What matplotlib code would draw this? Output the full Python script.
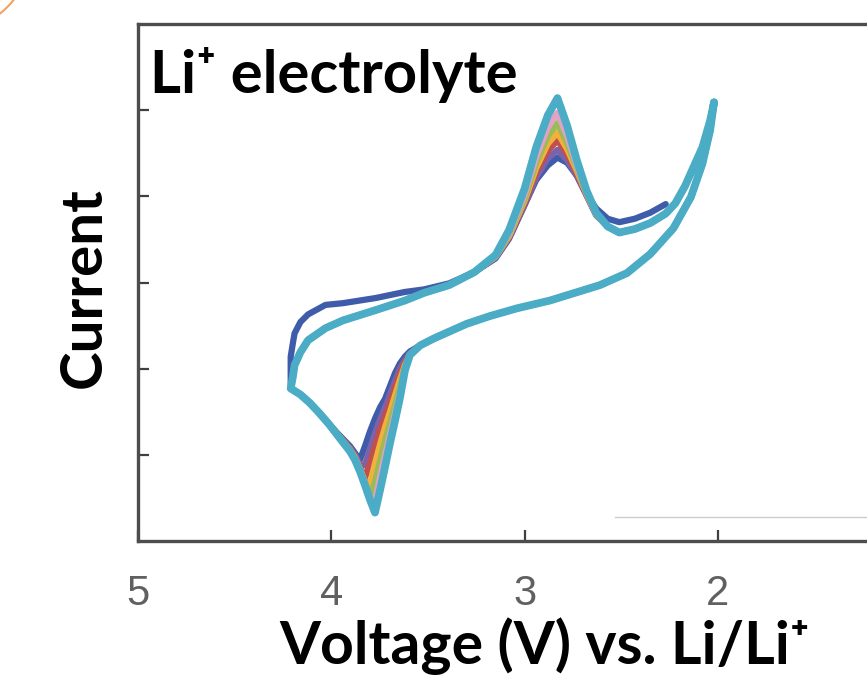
import numpy as np
import matplotlib
matplotlib.use("Agg")
import matplotlib.pyplot as plt
from matplotlib.patches import Circle

# ---- data ----
# voltage grid of the sweep from 2.0 V up to 4.2 V (upper branch) and back (lower branch)
v_upper = [2.02, 2.04, 2.08, 2.13, 2.17, 2.22, 2.27, 2.35, 2.43, 2.51, 2.57,
           2.63, 2.68, 2.73, 2.78, 2.83, 2.88, 2.94, 3.00, 3.08, 3.15,
           3.26, 3.39, 3.52, 3.62, 3.77, 3.94, 4.03, 4.12, 4.16, 4.19, 4.20, 4.21]
v_lower = [4.21, 4.16, 4.11, 4.06, 4.01,
           3.955, 3.903, 3.877, 3.852, 3.826, 3.800, 3.774, 3.748, 3.722, 3.696,
           3.670, 3.645, 3.619, 3.593,
           3.54, 3.47, 3.39, 3.30, 3.18, 3.04, 2.87, 2.61, 2.47, 2.35, 2.23,
           2.14, 2.08, 2.04, 2.02]

# parts of the current shared by cycles 2..7
upper_right = [5.09, 4.88, 4.57, 4.32, 4.12, 3.92, 3.80, 3.69, 3.62, 3.58, 3.65]
upper_left = [3.12, 2.97, 2.88, 2.79, 2.68, 2.56, 2.47, 2.33, 2.19, 2.04, 1.89, 1.77]
lower_head = [1.77, 1.70, 1.60, 1.48, 1.35]
lower_tail = [2.27, 2.35, 2.43, 2.52, 2.61, 2.70, 2.79, 2.97, 3.11, 3.33, 3.63,
              3.99, 4.38, 4.77, 5.09]

# first cycle starts at open circuit (~2.3 V) on the upper branch
upper_c1 = [None, None, None, None, None, None,
            3.91, 3.81, 3.74, 3.70, 3.74, 3.86, 4.03, 4.24, 4.39, 4.45, 4.36,
            4.19, 3.90, 3.51, 3.28, 3.12, 2.99, 2.92, 2.89, 2.82, 2.76, 2.74,
            2.63, 2.54, 2.41, 2.28, 2.14]

# anodic peak region (2.63 .. 3.15 V) for cycles 2..7
peak_up_c2 = [3.78, 4.01, 4.24, 4.42, 4.54, 4.44, 4.22, 3.90, 3.52, 3.29]
peak_up_c3 = [3.79, 4.02, 4.27, 4.49, 4.65, 4.53, 4.28, 3.93, 3.53, 3.30]
peak_up_c4 = [3.79, 4.03, 4.30, 4.55, 4.74, 4.61, 4.33, 3.95, 3.54, 3.30]
peak_up_c5 = [3.80, 4.04, 4.33, 4.62, 4.85, 4.70, 4.39, 3.98, 3.55, 3.30]
peak_up_c6 = [3.80, 4.05, 4.36, 4.70, 4.97, 4.80, 4.46, 4.02, 3.57, 3.31]
peak_up_c7 = [3.81, 4.07, 4.42, 4.82, 5.14, 4.94, 4.57, 4.09, 3.61, 3.32]

# cathodic peak region (3.59 .. 3.96 V)
peak_lo_c1 = [1.22, 1.10, 1.02, 0.94, 1.10, 1.27, 1.42, 1.55, 1.65, 1.80, 1.95, 2.06, 2.14, 2.20]
peak_lo_c2 = [1.21, 1.08, 1.00, 0.88, 0.88, 1.07, 1.25, 1.41, 1.55, 1.70, 1.86, 2.00, 2.10, 2.18]
peak_lo_c3 = [1.21, 1.07, 0.98, 0.86, 0.73, 0.90, 1.10, 1.29, 1.45, 1.61, 1.78, 1.94, 2.07, 2.17]
peak_lo_c4 = [1.20, 1.06, 0.97, 0.84, 0.69, 0.66, 0.90, 1.12, 1.32, 1.50, 1.69, 1.87, 2.04, 2.16]
peak_lo_c5 = [1.20, 1.05, 0.96, 0.83, 0.67, 0.52, 0.68, 0.93, 1.16, 1.37, 1.58, 1.79, 2.01, 2.16]
peak_lo_c6 = [1.19, 1.05, 0.95, 0.82, 0.66, 0.50, 0.45, 0.74, 0.99, 1.24, 1.48, 1.72, 1.99, 2.16]
peak_lo_c7 = [1.19, 1.04, 0.94, 0.81, 0.65, 0.48, 0.33, 0.59, 0.86, 1.14, 1.40, 1.66, 1.98, 2.16]

cycle_colors = ["#3f5caa", "#7b62aa", "#c0504d", "#f2b13a", "#9bbb59", "#e0a3c6", "#4bacc6"]

x_ticks = [5, 4, 3, 2]
x_ticklabels = ["5", "4", "3", "2"]
y_ticks = [1, 2, 3, 4, 5]

W, H = 867, 696


def fx(px):
    return px / W


def fy(py):
    return 1 - py / H


fig = plt.figure(figsize=(W / 100, H / 100), dpi=100)
fig.patch.set_facecolor("white")

# axes: left spine at x=138px, bottom at y=541px, top at y=24px, right runs off the figure
ax = fig.add_axes([fx(138), fy(541), 773.2 / W, 517 / H])
ax.set_xlim(5, 1)
ax.set_ylim(0, 6)

uppers = [upper_c1] + [upper_right + p + upper_left
                       for p in [peak_up_c2, peak_up_c3, peak_up_c4, peak_up_c5, peak_up_c6, peak_up_c7]]
lowers = [lower_head + p + lower_tail
          for p in [peak_lo_c1, peak_lo_c2, peak_lo_c3, peak_lo_c4, peak_lo_c5, peak_lo_c6, peak_lo_c7]]

for k, (iu, il) in enumerate(zip(uppers, lowers)):
    v = np.array(v_upper + v_lower, dtype=float)
    i = np.array(iu + il, dtype=float)
    lw = 5.6 if k == len(uppers) - 1 else 4.5
    ax.plot(v, i, color=cycle_colors[k], lw=lw, solid_capstyle="round",
            solid_joinstyle="round", zorder=2 + k)

# faint line left in the lower right of the original frame
ax.axhline(0.28, xmin=0.617, xmax=1, color="#cccccc", lw=1.0, zorder=1)

for s in ax.spines.values():
    s.set_color("#4d4d4d")
    s.set_linewidth(2.4)

ax.set_xticks(x_ticks)
ax.set_xticklabels(x_ticklabels, color="#606060", fontsize=30,
                   family=["Liberation Sans Narrow", "Liberation Sans"])
ax.set_yticks(y_ticks)
ax.set_yticklabels([])
ax.tick_params(axis="both", direction="in", length=8, width=1.6, color="#404040")
ax.tick_params(axis="x", pad=24)

bold_font = ["Lato", "DejaVu Sans"]
fig.text(fx(150), fy(93), "Li\u207a electrolyte", fontsize=43, fontweight="bold",
         family=bold_font, va="baseline", ha="left")
fig.text(fx(84), fy(288), "Current", fontsize=42, fontweight="bold", rotation=90,
         family=bold_font, va="center", ha="center")
fig.text(fx(545), fy(664), "Voltage (V) vs. Li/Li\u207a", fontsize=42.5, fontweight="bold",
         family=bold_font, va="baseline", ha="center")

# orange arc in the top left corner
over = fig.add_axes([0, 0, 1, 1], zorder=-1)
over.set_xlim(0, W)
over.set_ylim(H, 0)
over.axis("off")
over.add_patch(Circle((-60, -60), 95, fill=False, ec="#f4a261", lw=1.5))

fig.savefig("out.png", dpi=100, facecolor="white")
